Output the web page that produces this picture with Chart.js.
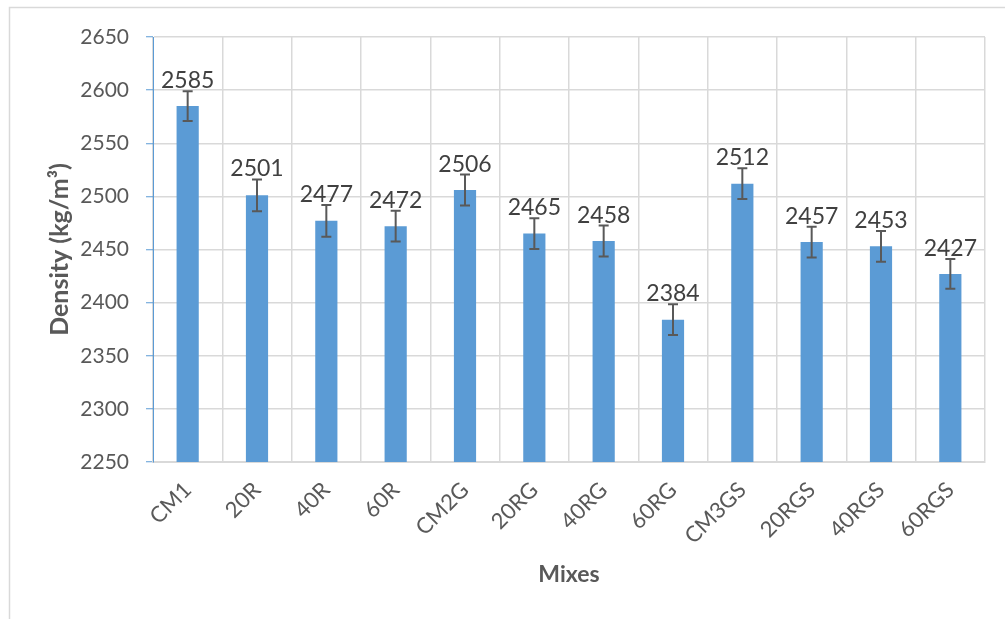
<!DOCTYPE html>
<html>
<head>
<meta charset="utf-8">
<script src="https://cdn.jsdelivr.net/npm/chart.js@4.4.1/dist/chart.umd.min.js"></script>
<style>
  html, body { margin: 0; padding: 0; background: #ffffff; }
  #wrap { width: 1005px; height: 619px; position: relative; }
</style>
</head>
<body>
<div id="wrap"><canvas id="chart" width="1005" height="619"></canvas></div>
<script>
// Mix designations along the x axis
const mixes = ['CM1', '20R', '40R', '60R', 'CM2G', '20RG', '40RG', '60RG', 'CM3GS', '20RGS', '40RGS', '60RGS'];
// Mean density of each mix (kg/m³)
const density = [2585, 2501, 2477, 2472, 2506, 2465, 2458, 2384, 2512, 2457, 2453, 2427];
// Half-width of the error bar for each mix (kg/m³)
const spread = [14, 15, 15, 14.5, 14.5, 14.5, 14.5, 14.5, 14.5, 14.5, 14.5, 14];
// Density axis range and step
const yTicks = { min: 2250, max: 2650, step: 50 };

const FONT = 'Lato, "Open Sans", "Liberation Sans", sans-serif';

// Light frame around the chart
const framePlugin = {
  id: 'frame',
  beforeDraw(chart) {
    const ctx = chart.ctx;
    ctx.save();
    ctx.strokeStyle = '#d9d9d9';
    ctx.lineWidth = 1.5;
    ctx.beginPath();
    ctx.moveTo(9.5, chart.height);
    ctx.lineTo(9.5, 7.5);
    ctx.lineTo(chart.width, 7.5);
    ctx.stroke();
    ctx.restore();
  }
};

// Error bars with caps, then the value label above each one
const errorBarPlugin = {
  id: 'errorBars',
  afterDatasetsDraw(chart) {
    const ctx = chart.ctx;
    const meta = chart.getDatasetMeta(0);
    const y = chart.scales.y;
    ctx.save();
    meta.data.forEach((bar, i) => {
      const v = density[i];
      const e = spread[i];
      const top = y.getPixelForValue(v + e);
      const bottom = y.getPixelForValue(v - e);
      const x = bar.x;
      ctx.strokeStyle = '#595959';
      ctx.lineWidth = 2;
      ctx.beginPath();
      ctx.moveTo(x, top);
      ctx.lineTo(x, bottom);
      ctx.moveTo(x - 5, top);
      ctx.lineTo(x + 5, top);
      ctx.moveTo(x - 5, bottom);
      ctx.lineTo(x + 5, bottom);
      ctx.stroke();

      ctx.fillStyle = '#404040';
      ctx.font = '23px ' + FONT;
      ctx.textAlign = 'center';
      ctx.textBaseline = 'alphabetic';
      ctx.fillText(String(v), x, top - 3);
    });
    ctx.restore();
  }
};

new Chart(document.getElementById('chart'), {
  type: 'bar',
  data: {
    labels: mixes,
    datasets: [{
      label: 'Density',
      data: density,
      backgroundColor: '#5b9bd5',
      borderWidth: 0,
      categoryPercentage: 1,
      barPercentage: 0.32
    }]
  },
  options: {
    responsive: false,
    animation: false,
    devicePixelRatio: 1,
    layout: { padding: { top: 37, right: 20, bottom: 0, left: 0 } },
    plugins: {
      legend: { display: false },
      tooltip: { enabled: false }
    },
    scales: {
      x: {
        offset: true,
        grid: { color: '#d9d9d9', lineWidth: 1.5, offset: true, drawTicks: false },
        border: { color: '#d9d9d9', width: 2 },
        ticks: {
          color: '#595959',
          font: { family: FONT, size: 22 },
          minRotation: 45,
          maxRotation: 45,
          padding: 15,
          autoSkip: false
        },
        title: {
          display: true,
          text: 'Mixes',
          color: '#595959',
          font: { family: FONT, size: 23, weight: 'bold' },
          padding: { top: 0, bottom: 31 }
        },
        afterFit(scale) { scale.height = 157; }
      },
      y: {
        min: yTicks.min,
        max: yTicks.max,
        ticks: {
          stepSize: yTicks.step,
          color: '#595959',
          font: { family: FONT, size: 21 },
          padding: 17,
          callback: (value) => String(value)
        },
        grid: { color: '#d9d9d9', lineWidth: 1.5, tickColor: '#5b9bd5', tickLength: 7, tickWidth: 1 },
        border: { color: '#5b9bd5', width: 1 },
        title: {
          display: true,
          text: 'Density (kg/m³)',
          color: '#595959',
          font: { family: FONT, size: 25, weight: 'bold' },
          padding: { top: 45, bottom: 0 }
        },
        afterFit(scale) { scale.width = 153; }
      }
    }
  },
  plugins: [framePlugin, errorBarPlugin]
});
</script>
</body>
</html>
